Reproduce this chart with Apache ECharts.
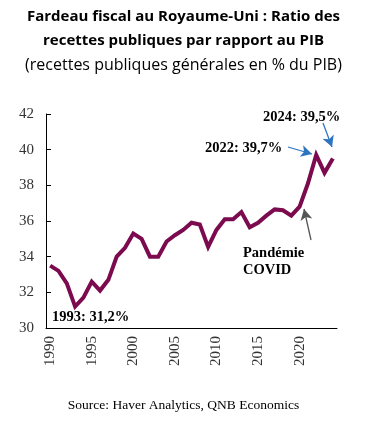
<!DOCTYPE html>
<html>
<head>
<meta charset="utf-8">
<script src="https://cdn.jsdelivr.net/npm/echarts@6/dist/echarts.min.js"></script>
<style>html,body{margin:0;padding:0;background:#fff;}#c{width:367px;height:426px;}</style>
</head>
<body>
<div id="c"></div>
<script>
const years = ['1990','1991','1992','1993','1994','1995','1996','1997','1998','1999','2000','2001','2002','2003','2004','2005','2006','2007','2008','2009','2010','2011','2012','2013','2014','2015','2016','2017','2018','2019','2020','2021','2022','2023','2024'];
const revenueRatio = [33.5,33.2,32.5,31.2,31.7,32.6,32.1,32.7,34.0,34.5,35.3,35.0,34.0,34.0,34.85,35.2,35.5,35.9,35.8,34.55,35.5,36.1,36.1,36.5,35.65,35.9,36.3,36.65,36.6,36.3,36.8,38.1,39.7,38.7,39.5];
const yTicks = {min:30, max:42, interval:2};

const chart = echarts.init(document.getElementById('c'), null, {renderer:'canvas'});
const serif = 'Liberation Serif, Times New Roman, serif';
const sans = 'Open Sans, Noto Sans, sans-serif';
chart.setOption({
  animation:false,
  backgroundColor:'#fff',
  title:{
    text:'Fardeau fiscal au Royaume-Uni : Ratio des\nrecettes publiques par rapport au PIB',
    subtext:'(recettes publiques générales en % du PIB)',
    left:'center', top:0, itemGap:1,
    textStyle:{fontFamily:sans, fontSize:15, fontWeight:'bold', color:'#000', lineHeight:24},
    subtextStyle:{fontFamily:sans, fontSize:16, color:'#000', lineHeight:22}
  },
  grid:{left:46, right:30, top:114, bottom:98},
  xAxis:{
    type:'category', data:years, boundaryGap:true,
    axisLine:{lineStyle:{color:'#000', width:1}},
    axisTick:{inside:true, interval:4, length:5, lineStyle:{color:'#000'}},
    axisLabel:{interval:4, rotate:90, fontFamily:serif, fontSize:15, color:'#333', margin:8}
  },
  yAxis:{
    type:'value', min:yTicks.min, max:yTicks.max, interval:yTicks.interval,
    splitLine:{show:false},
    axisLine:{show:true, lineStyle:{color:'#000', width:1}},
    axisTick:{show:true, inside:true, length:5, lineStyle:{color:'#000'}},
    axisLabel:{fontFamily:serif, fontSize:15, color:'#333', margin:12}
  },
  series:[{
    type:'line', data:revenueRatio, symbol:'none',
    lineStyle:{color:'#7B0A4F', width:4, join:'miter'},
    markLine:{
      silent:true, symbol:['none','arrow'], symbolSize:[9,11], label:{show:false},
      data:[
        [{x:288,y:147,lineStyle:{color:'#2E75C0',width:1.3,type:'solid'}},{x:312,y:154}],
        [{x:323,y:123,lineStyle:{color:'#2E75C0',width:1.3,type:'solid'}},{x:332,y:147}],
        [{x:311,y:240,lineStyle:{color:'#555',width:1.3,type:'solid'}},{x:304,y:209}]
      ]
    }
  }],
  graphic:[
    {type:'text', left:52, top:310, style:{text:'1993: 31,2%', font:'bold 14.5px '+serif, fill:'#000'}},
    {type:'text', left:205, top:141, style:{text:'2022: 39,7%', font:'bold 14.5px '+serif, fill:'#000'}},
    {type:'text', left:263, top:110, style:{text:'2024: 39,5%', font:'bold 14.5px '+serif, fill:'#000'}},
    {type:'text', left:243, top:245, style:{text:'Pandémie\nCOVID', font:'bold 14.5px '+serif, fill:'#000', lineHeight:17}},
    {type:'text', left:'center', top:398, style:{text:'Source: Haver Analytics, QNB Economics', font:'13.5px '+serif, fill:'#000'}}
  ]
});
</script>
</body>
</html>
